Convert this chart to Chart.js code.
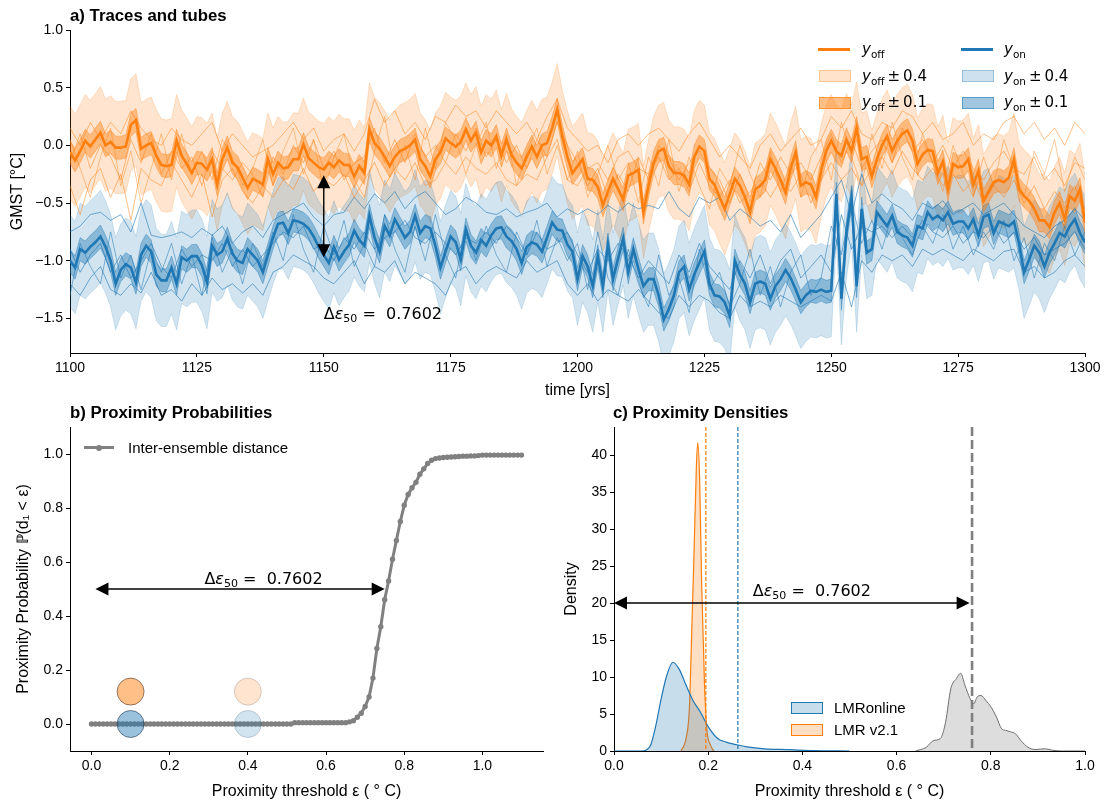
<!DOCTYPE html>
<html><head><meta charset="utf-8">
<script src="https://cdn.jsdelivr.net/npm/chart.js@4.4.1/dist/chart.umd.min.js"></script>
<style>
body{margin:0;background:#fff;width:1111px;height:811px;overflow:hidden;position:relative;font-family:"Liberation Sans",Arial,sans-serif;}
canvas{position:absolute;}
.t{position:absolute;font-weight:bold;font-size:16.8px;color:#000;line-height:18px;white-space:nowrap;}
.lg{position:absolute;font-family:"DejaVu Sans",sans-serif;font-size:15px;color:#000;line-height:16px;white-space:nowrap;}
.lg sub{font-size:10.5px;vertical-align:-4px;line-height:0;}
.lt{position:absolute;font-size:15px;color:#000;line-height:16px;white-space:nowrap;}
.sw{position:absolute;box-sizing:border-box;}
</style></head>
<body>
<canvas id="ca" width="1111" height="400" style="left:0;top:0;width:1111px;height:400px"></canvas>
<canvas id="cb" width="560" height="411" style="left:0;top:400px;width:560px;height:411px"></canvas>
<canvas id="cc" width="551" height="411" style="left:560px;top:400px;width:551px;height:411px"></canvas>

<div class="t" style="left:70px;top:7px">a) Traces and tubes</div>
<div class="t" style="left:70px;top:404px">b) Proximity Probabilities</div>
<div class="t" style="left:613px;top:404px">c) Proximity Densities</div>

<!-- legend a -->
<div class="sw" style="left:818px;top:47.5px;width:32px;height:3px;background:#ff7f0e"></div>
<div class="lg" style="left:862px;top:41px"><i>y</i><sub>off</sub></div>
<div class="sw" style="left:819px;top:70px;width:32px;height:12px;background:rgba(255,127,14,0.22);border:1px solid rgba(255,127,14,0.3)"></div>
<div class="lg" style="left:862px;top:68px"><i>y</i><sub>off</sub>&thinsp;±&thinsp;0.4</div>
<div class="sw" style="left:819px;top:97px;width:32px;height:12px;background:rgba(255,127,14,0.5);border:1px solid rgba(255,127,14,0.6)"></div>
<div class="lg" style="left:862px;top:94px"><i>y</i><sub>off</sub>&thinsp;±&thinsp;0.1</div>
<div class="sw" style="left:961px;top:47.5px;width:32px;height:3px;background:#1f77b4"></div>
<div class="lg" style="left:1004px;top:41px"><i>y</i><sub>on</sub></div>
<div class="sw" style="left:962px;top:70px;width:32px;height:12px;background:rgba(31,119,180,0.22);border:1px solid rgba(31,119,180,0.3)"></div>
<div class="lg" style="left:1004px;top:68px"><i>y</i><sub>on</sub>&thinsp;±&thinsp;0.4</div>
<div class="sw" style="left:962px;top:97px;width:32px;height:12px;background:rgba(31,119,180,0.42);border:1px solid rgba(31,119,180,0.55)"></div>
<div class="lg" style="left:1004px;top:94px"><i>y</i><sub>on</sub>&thinsp;±&thinsp;0.1</div>

<!-- legend b -->
<div class="sw" style="left:84px;top:446px;width:30px;height:3px;background:#808080"></div>
<div class="sw" style="left:96px;top:444.5px;width:6px;height:6px;border-radius:3px;background:#808080"></div>
<div class="lt" style="left:128px;top:440px">Inter-ensemble distance</div>

<!-- legend c -->
<div class="sw" style="left:791px;top:702px;width:32px;height:12px;background:rgba(31,119,180,0.25);border:1px solid #1f77b4"></div>
<div class="lt" style="left:834px;top:700px">LMRonline</div>
<div class="sw" style="left:791px;top:724px;width:32px;height:12px;background:rgba(255,127,14,0.25);border:1px solid #ff7f0e"></div>
<div class="lt" style="left:834px;top:722px">LMR v2.1</div>

<script>
// ---------------- DATA ----------------
const startYear = 1100;
const traceStep = 2;

const yOffMean = [
-0.06,-0.13,-0.05,0.04,-0.01,0.05,0.11,0.00,0.03,-0.02,
-0.02,-0.01,0.18,0.22,-0.03,0.00,0.02,-0.09,-0.17,-0.18,
-0.17,0.04,-0.09,-0.16,-0.24,-0.15,-0.16,-0.21,-0.12,-0.34,
-0.12,-0.02,-0.15,-0.19,-0.28,-0.37,-0.29,-0.31,-0.34,-0.12,
-0.25,-0.15,-0.20,-0.19,-0.12,-0.12,0.01,-0.11,-0.15,-0.19,
-0.21,-0.15,-0.19,-0.13,-0.17,-0.17,-0.27,-0.18,-0.24,0.14,
0.02,-0.03,-0.10,-0.18,-0.10,-0.05,-0.03,0.00,0.05,-0.12,
-0.18,-0.27,-0.12,-0.06,0.06,0.02,-0.01,0.03,0.14,0.04,
0.11,-0.06,0.04,0.00,0.08,-0.09,0.05,-0.08,-0.15,-0.20,
-0.10,-0.01,-0.10,0.00,0.02,0.15,0.31,0.08,-0.10,-0.24,
-0.18,-0.12,-0.29,-0.30,-0.36,-0.52,-0.40,-0.29,-0.38,-0.47,
-0.26,-0.24,-0.21,-0.58,-0.35,-0.15,-0.05,-0.03,-0.18,-0.24,
-0.24,-0.26,-0.34,-0.10,-0.01,-0.05,-0.29,-0.34,-0.45,-0.55,
-0.42,-0.29,-0.35,-0.45,-0.58,-0.38,-0.35,-0.30,-0.12,-0.20,
-0.30,-0.41,-0.20,-0.06,-0.35,-0.32,-0.34,-0.45,-0.22,-0.05,
0.04,-0.05,-0.09,0.05,-0.05,0.15,-0.12,-0.10,-0.27,-0.12,
0.00,0.08,-0.05,0.04,0.10,0.13,0.04,-0.16,-0.08,-0.04,
-0.05,-0.24,-0.14,-0.38,-0.16,-0.19,-0.18,-0.12,-0.34,-0.22,
-0.48,-0.40,-0.32,-0.30,-0.32,-0.28,-0.12,-0.38,-0.44,-0.48,
-0.55,-0.65,-0.65,-0.71,-0.58,-0.50,-0.64,-0.44,-0.48,-0.38,
-0.67];

const yOnMean = [
-1.00,-1.06,-0.90,-0.93,-0.88,-0.84,-0.79,-0.88,-1.00,-1.20,
-1.08,-1.03,-1.06,-1.19,-0.95,-0.87,-0.92,-1.12,-1.17,-1.17,
-1.06,-1.20,-0.97,-1.00,-0.96,-0.96,-1.04,-1.19,-0.87,-0.95,
-0.92,-0.81,-0.94,-1.00,-1.02,-0.90,-0.95,-1.00,-1.10,-0.95,
-0.80,-0.68,-0.67,-0.76,-0.65,-0.66,-0.68,-0.72,-0.79,-0.88,
-0.95,-1.02,-0.88,-0.99,-0.92,-0.86,-0.74,-0.82,-0.87,-0.61,
-0.80,-0.92,-0.70,-0.78,-0.64,-0.72,-0.80,-0.75,-0.61,-0.76,
-0.70,-0.72,-0.87,-1.06,-0.92,-0.79,-0.84,-0.99,-0.73,-0.87,
-0.93,-0.82,-0.87,-0.78,-0.72,-0.71,-0.79,-0.83,-0.90,-1.02,
-0.88,-0.84,-0.86,-0.92,-0.80,-0.67,-0.73,-0.74,-0.86,-0.92,
-1.16,-0.96,-1.05,-1.22,-0.96,-1.22,-0.86,-1.16,-0.98,-0.81,
-1.10,-0.90,-1.07,-1.22,-1.16,-1.16,-1.30,-1.51,-1.42,-1.30,
-1.10,-1.05,-1.25,-1.12,-1.02,-0.92,-1.20,-1.30,-1.31,-1.36,
-1.48,-1.00,-1.12,-1.20,-1.36,-1.20,-1.18,-1.20,-1.33,-1.22,
-1.16,-1.08,-1.15,-1.25,-1.36,-1.30,-1.26,-1.27,-1.25,-1.27,
-1.26,-0.42,-1.33,-0.75,-0.45,-1.22,-0.55,-0.93,-0.90,-0.58,
-0.64,-0.70,-0.61,-0.75,-0.78,-0.80,-0.87,-0.70,-0.72,-0.58,
-0.64,-0.61,-0.65,-0.58,-0.68,-0.66,-0.66,-0.72,-0.64,-0.78,
-0.62,-0.60,-0.76,-0.66,-0.68,-0.70,-0.66,-0.85,-1.10,-0.99,
-0.87,-0.93,-1.05,-0.93,-0.85,-0.76,-0.79,-0.70,-0.64,-0.76,
-0.84];

const yOffTrace1 = [
-0.35,-0.6,-0.3,-0.2,-0.45,-0.25,-0.65,-0.2,-0.3,-0.35,
-0.15,-0.3,-0.45,-0.25,-0.62,-0.3,-0.2,-0.4,-0.5,-0.35,
-0.45,-0.3,-0.38,-0.2,-0.4,-0.3,-0.35,-0.25,-0.45,-0.3,
-0.15,-0.35,-0.2,-0.3,-0.15,-0.35,-0.3,-0.15,-0.25,-0.1,
-0.2,-0.25,-0.15,-0.3,-0.35,-0.25,-0.3,-0.1,0.05,-0.3,
-0.35,-0.2,-0.15,-0.3,-0.1,-0.05,-0.2,-0.25,-0.1,-0.3,
-0.2,-0.4,-0.15,-0.35,-0.45,-0.3,-0.5,-0.4,-0.3,-0.45,
-0.3,-0.4,-0.25,-0.5,-0.3,-0.15,-0.3,-0.2,-0.35,-0.2,
-0.1,-0.25,-0.05,-0.2,-0.3,-0.2,-0.35,-0.25,-0.4,-0.3,
-0.5,-0.35,-0.45,-0.3,-0.5,-0.35,-0.55,-0.4,-0.5,-0.35,
-0.6];
const yOffTrace2 = [
0.15,0.0,0.2,0.05,0.2,0.1,0.3,0.15,0.05,0.0,
0.15,0.05,0.0,0.1,0.2,-0.05,0.1,0.0,-0.1,-0.05,
0.0,0.1,0.2,0.05,0.15,-0.05,0.05,0.1,-0.05,0.1,
0.4,0.2,0.3,0.1,0.2,0.05,0.25,0.2,0.35,0.25,
0.3,0.15,0.3,0.2,0.1,0.2,0.05,0.25,0.4,0.15,
0.05,-0.05,0.0,-0.15,0.05,0.1,0.0,0.1,0.15,0.05,
-0.05,0.1,0.2,0.05,-0.1,0.0,-0.1,-0.2,0.0,0.1,
-0.05,0.05,0.15,0.0,0.05,0.25,0.15,0.3,0.1,0.05,
0.2,0.15,0.3,0.25,0.1,0.2,0.05,0.1,0.2,0.0,
0.1,0.05,0.2,0.25,0.1,0.2,0.05,0.15,0.0,0.2,
0.1];
const yOffTrace3 = [
-0.15,0.1,-0.2,0.0,-0.1,-0.3,0.05,-0.15,0.1,-0.25,
-0.05,-0.2,-0.1,-0.35,-0.05,-0.2,-0.3,-0.15,-0.25,-0.45,
-0.1,-0.25,0.0,-0.15,0.05,-0.2,-0.05,-0.3,-0.15,-0.1,
0.15,-0.15,0.05,-0.15,0.1,-0.1,0.0,-0.15,0.1,-0.05,
0.15,-0.1,0.05,-0.15,0.0,-0.2,0.05,-0.1,0.2,0.0,
-0.15,-0.35,-0.2,-0.45,-0.25,-0.4,-0.1,-0.3,0.0,-0.1,
-0.3,-0.15,-0.05,-0.2,-0.3,-0.5,-0.25,-0.45,-0.15,-0.3,
-0.1,-0.25,-0.15,-0.3,-0.1,0.1,-0.15,0.05,-0.2,-0.05,
0.05,-0.15,0.15,-0.05,0.05,-0.15,0.0,-0.2,-0.05,-0.2,
-0.3,-0.15,-0.05,-0.2,-0.25,-0.1,-0.3,-0.2,-0.35,-0.15,
-0.2];
const yOffTrace4 = [
0.05,-0.2,-0.45,-0.1,0.15,-0.35,-0.05,-0.5,-0.2,0.1,
-0.3,0.1,-0.25,-0.05,-0.3,0.05,-0.1,-0.35,-0.2,0.05,
-0.35,-0.05,0.15,-0.25,0.05,-0.4,-0.1,0.1,-0.3,-0.45,
-0.05,0.25,-0.25,0.0,-0.3,0.15,-0.2,0.2,0.05,-0.25,
0.0,0.2,-0.2,0.1,-0.35,-0.05,0.15,-0.25,0.0,-0.3,
-0.05,-0.45,-0.25,0.0,-0.3,-0.15,-0.5,-0.1,-0.35,0.05,
-0.4,-0.1,-0.35,-0.55,-0.2,-0.35,0.0,-0.25,-0.45,-0.05,
-0.4,-0.15,-0.45,-0.1,0.05,-0.3,0.2,-0.1,-0.35,0.1,
-0.2,0.2,-0.1,-0.3,0.1,-0.15,-0.4,0.0,-0.25,-0.45,
-0.1,-0.35,0.05,-0.2,-0.45,-0.05,-0.25,0.05,-0.4,-0.1,
-0.3];
const yOnTrace1 = [
-0.75,-0.7,-0.6,-0.58,-0.65,-0.6,-0.75,-0.5,-0.78,-0.8,
-0.78,-0.75,-0.8,-0.72,-0.78,-0.7,-0.85,-0.75,-0.7,-0.8,
-0.65,-0.6,-0.55,-0.5,-0.62,-0.7,-0.6,-0.58,-0.45,-0.55,
-0.42,-0.5,-0.4,-0.55,-0.45,-0.4,-0.5,-0.6,-0.55,-0.45,
-0.5,-0.58,-0.6,-0.55,-0.62,-0.58,-0.55,-0.5,-0.62,-0.55,
-0.6,-0.55,-0.6,-0.52,-0.58,-0.5,-0.55,-0.52,-0.55,-0.4,
-0.55,-0.62,-0.45,-0.5,-0.45,-0.65,-0.55,-0.62,-0.7,-0.65,
-0.75,-0.6,-0.8,-0.7,-0.6,-0.45,-0.3,-0.6,-0.25,-0.5,
-0.42,-0.5,-0.55,-0.65,-0.5,-0.55,-0.48,-0.6,-0.55,-0.5,
-0.6,-0.55,-0.5,-0.6,-0.7,-0.75,-0.8,-0.7,-0.65,-0.55,
-0.65];
const yOnTrace2 = [
-1.2,-1.3,-1.15,-1.05,-1.25,-1.3,-1.2,-1.28,-1.1,-1.3,
-1.25,-1.35,-1.2,-1.3,-1.15,-1.25,-1.2,-1.28,-1.2,-1.3,
-1.1,-1.05,-0.95,-1.0,-1.05,-1.15,-1.2,-1.1,-1.0,-1.2,
-1.05,-1.1,-1.0,-1.2,-1.1,-1.15,-1.2,-1.3,-1.1,-1.05,
-1.2,-1.1,-1.05,-1.1,-1.15,-1.0,-1.1,-1.05,-1.0,-1.2,
-1.3,-1.2,-1.35,-1.25,-1.3,-1.35,-1.25,-1.35,-1.45,-1.5,
-1.3,-1.4,-1.3,-1.35,-1.45,-1.5,-1.3,-1.4,-1.35,-1.4,
-1.3,-1.35,-1.4,-1.35,-1.3,-1.35,-1.1,-1.4,-1.0,-1.1,
-0.95,-1.0,-0.95,-1.05,-0.9,-0.95,-0.9,-0.95,-1.0,-0.9,
-0.95,-1.0,-0.92,-0.9,-1.1,-1.05,-1.15,-1.1,-1.0,-0.95,
-1.05];
const yOnTrace3 = [
-0.9,-1.1,-0.95,-0.85,-1.1,-0.95,-1.15,-1.0,-0.85,-1.05,
-1.15,-0.9,-1.05,-0.95,-1.0,-0.85,-1.05,-0.9,-1.05,-0.95,
-0.85,-0.75,-0.8,-0.7,-0.9,-0.85,-1.0,-0.8,-0.9,-0.75,
-0.9,-0.8,-0.75,-0.65,-0.8,-0.85,-0.75,-0.85,-0.95,-0.8,
-0.85,-0.75,-0.85,-0.7,-0.8,-0.95,-0.75,-0.9,-0.85,-0.75,
-0.95,-1.1,-0.9,-1.0,-0.85,-0.95,-1.15,-1.0,-1.1,-1.2,
-0.95,-1.1,-0.85,-1.05,-1.15,-1.25,-1.0,-1.15,-0.95,-1.2,
-1.0,-0.9,-1.15,-1.05,-0.95,-1.1,-0.6,-0.9,-0.7,-0.75,
-0.7,-0.8,-0.7,-0.8,-0.65,-0.75,-0.8,-0.7,-0.85,-0.75,
-0.8,-0.7,-0.85,-0.75,-0.9,-0.8,-0.95,-0.9,-0.85,-0.75,
-0.9];
const yOnTrace4 = [
-1.3,-0.85,-1.05,-1.2,-0.75,-1.15,-0.95,-1.25,-0.9,-1.1,
-0.85,-1.2,-0.95,-1.3,-0.8,-1.1,-0.9,-1.2,-0.85,-1.05,
-0.75,-1.0,-0.6,-0.9,-1.1,-0.7,-0.95,-0.65,-1.05,-0.85,
-1.05,-0.6,-0.9,-1.1,-0.7,-1.0,-0.6,-0.95,-1.15,-0.7,
-1.0,-0.7,-0.95,-1.1,-0.75,-0.95,-0.65,-1.05,-0.8,-1.0,
-0.85,-1.25,-0.75,-1.15,-1.3,-0.9,-1.2,-1.4,-0.95,-1.3,
-1.15,-1.45,-0.9,-1.25,-1.1,-1.4,-1.2,-0.9,-1.3,-1.05,
-1.4,-1.1,-0.95,-1.3,-1.15,-0.7,-0.95,-0.5,-0.85,-0.65,
-0.9,-0.6,-0.8,-0.95,-0.7,-0.85,-0.6,-0.9,-0.7,-0.95,
-0.75,-0.9,-0.65,-1.0,-0.8,-1.15,-0.85,-1.0,-0.7,-0.95,
-0.75];

const bandWide = 0.4;
const bandNarrow = 0.1;
const timeTicks = [1100,1125,1150,1175,1200,1225,1250,1275,1300];
const gmstTicks = [-1.5,-1.0,-0.5,0.0,0.5,1.0];
const deltaEps50 = 0.7602;
const arrowYear = 1150, arrowTop = -0.26, arrowBottom = -0.97;

// panel b
const epsGrid = [
0.00,0.01,0.02,0.03,0.04,0.05,0.06,0.07,0.08,0.09,
0.10,0.11,0.12,0.13,0.14,0.15,0.16,0.17,0.18,0.19,
0.20,0.21,0.22,0.23,0.24,0.25,0.26,0.27,0.28,0.29,
0.30,0.31,0.32,0.33,0.34,0.35,0.36,0.37,0.38,0.39,
0.40,0.41,0.42,0.43,0.44,0.45,0.46,0.47,0.48,0.49,
0.50,0.51,0.52,0.53,0.54,0.55,0.56,0.57,0.58,0.59,
0.60,0.61,0.62,0.63,0.64,0.65,0.66,0.67,0.68,0.69,
0.70,0.71,0.72,0.73,0.74,0.75,0.76,0.77,0.78,0.79,
0.80,0.81,0.82,0.83,0.84,0.85,0.86,0.87,0.88,0.89,
0.90,0.91,0.92,0.93,0.94,0.95,0.96,0.97,0.98,0.99,
1.00,1.01,1.02,1.03,1.04,1.05,1.06,1.07,1.08,1.09,
1.10];
const proxProb = [
0,0,0,0,0,0,0,0,0,0,
0,0,0,0,0,0,0,0,0,0,
0,0,0,0,0,0,0,0,0,0,
0,0,0,0,0,0,0,0,0,0,
0,0,0,0,0,0,0,0,0,0,
0,0,0.005,0.005,0.005,0.005,0.005,0.005,0.005,0.005,
0.005,0.005,0.005,0.005,0.005,0.005,0.008,0.012,0.025,0.04,
0.065,0.10,0.17,0.28,0.36,0.46,0.53,0.61,0.68,0.75,
0.81,0.85,0.875,0.895,0.925,0.945,0.965,0.977,0.983,0.985,
0.987,0.988,0.989,0.990,0.991,0.992,0.992,0.993,0.993,0.994,
0.996,0.996,0.996,0.996,0.996,0.996,0.996,0.996,0.996,0.996,
0.996];
const circleEps = [0.1, 0.1, 0.4, 0.4];
const circleProb = [0.12, 0.0, 0.12, 0.0];
const unitTicks = [0.0,0.2,0.4,0.6,0.8,1.0];

// panel c
const onlineEps = [0,0.06,0.067,0.078,0.089,0.10,0.112,0.125,0.138,0.153,0.168,0.183,0.201,0.22,0.238,0.261,0.283,0.32,0.373,0.425,0.5];
const onlineDens = [0,0,0.1,0.8,3.5,7.0,10.2,12.0,11.1,8.9,6.8,5.3,3.2,1.7,1.2,0.85,0.55,0.3,0.18,0.05,0];
const v21Eps = [0.142,0.153,0.16,0.165,0.17,0.175,0.178,0.182,0.186,0.192,0.197,0.205,0.212];
const v21Dens = [0,1.7,5.7,16,27,38.6,41.7,36.3,22.8,9.3,3.0,0.8,0];
const interEps = [0.64,0.663,0.678,0.693,0.704,0.715,0.727,0.736,0.745,0.756,0.764,0.771,0.779,0.79,0.801,0.812,0.823,0.831,0.842,0.853,0.864,0.879,0.894,0.916,0.931,0.95,1.0];
const interDens = [0,0.5,1.4,1.7,3.9,8.4,9.8,10.5,8.9,7.1,6.4,7.3,7.5,6.8,5.9,4.6,3.0,2.8,2.6,2.3,1.4,0.5,0.2,0.3,0.1,0,0];
const onlineMeanEps = 0.263;
const v21MeanEps = 0.195;
const densTicks = [0,5,10,15,20,25,30,35,40];
const densMax = 43.8;

// ---------------- HELPERS ----------------
const FONT = '"Liberation Sans", Arial, sans-serif';
const ORANGE = 'rgb(255,127,14)', BLUE = 'rgb(31,119,180)';
const oa = a => `rgba(255,127,14,${a})`;
const ba = a => `rgba(31,119,180,${a})`;
const fmt1 = v => (v < 0 ? '\u2212' : '') + Math.abs(v).toFixed(1);

function yearly(arr, off = 0) { return arr.map((v, i) => ({ x: startYear + i, y: v + off })); }
function stepped(arr) { return arr.map((v, i) => ({ x: startYear + i * traceStep, y: v })); }
function pairs(xs, ys) { return xs.map((x, i) => ({ x: x, y: ys[i] })); }

function axis(opts) {
  return {
    type: 'linear',
    min: opts.min, max: opts.max,
    grid: { display: true, drawOnChartArea: false, drawTicks: true, tickLength: 4, color: '#000', tickColor: '#000', tickWidth: 1 },
    border: { display: true, color: '#000', width: 1 },
    ticks: { color: '#000', font: { family: FONT, size: 14 }, padding: 3, maxRotation: 0, autoSkip: false, callback: opts.fmt },
    afterBuildTicks: s => { s.ticks = opts.ticks.map(v => ({ value: v })); },
    title: { display: true, text: opts.title, color: '#000', font: { family: FONT, size: 16 }, padding: opts.tpad },
    afterFit: s => { if (opts.w !== undefined) s.width = opts.w; if (opts.h !== undefined) s.height = opts.h; }
  };
}

function drawArrowHead(ctx, tx, ty, ux, uy, len, hw) {
  const bx = tx - ux * len, by = ty - uy * len;
  ctx.beginPath();
  ctx.moveTo(tx, ty);
  ctx.lineTo(bx - uy * hw, by + ux * hw);
  ctx.lineTo(bx + uy * hw, by - ux * hw);
  ctx.closePath();
  ctx.fill();
}
function drawDoubleArrow(ctx, x1, y1, x2, y2) {
  const dx = x2 - x1, dy = y2 - y1, L = Math.hypot(dx, dy);
  const ux = dx / L, uy = dy / L, len = 13, hw = 6.5;
  ctx.strokeStyle = '#000'; ctx.fillStyle = '#000'; ctx.lineWidth = 1.4;
  ctx.beginPath();
  ctx.moveTo(x1 + ux * (len - 1), y1 + uy * (len - 1));
  ctx.lineTo(x2 - ux * (len - 1), y2 - uy * (len - 1));
  ctx.stroke();
  drawArrowHead(ctx, x2, y2, ux, uy, len, hw);
  drawArrowHead(ctx, x1, y1, -ux, -uy, len, hw);
}
function drawMath(ctx, x, y, align, value) {
  const parts = [
    { t: '\u0394', f: `16px "DejaVu Sans", sans-serif`, dy: 0 },
    { t: '\u03B5', f: `italic 16px "DejaVu Sans", sans-serif`, dy: 0 },
    { t: '50', f: `11px "DejaVu Sans", sans-serif`, dy: 3.5 },
    { t: ' =  ' + value, f: `16px "DejaVu Sans", sans-serif`, dy: 0 }
  ];
  let w = 0;
  parts.forEach(p => { ctx.font = p.f; p.w = ctx.measureText(p.t).width; w += p.w; });
  let cx = align === 'center' ? x - w / 2 : x;
  ctx.fillStyle = '#000'; ctx.textBaseline = 'alphabetic'; ctx.textAlign = 'left';
  parts.forEach(p => { ctx.font = p.f; ctx.fillText(p.t, cx, y + 5.5 + p.dy); cx += p.w; });
}

const annotPlugin = {
  id: 'annot',
  afterDatasetsDraw(chart, args, opts) {
    const ctx = chart.ctx, xs = chart.scales.x, ys = chart.scales.y, ca = chart.chartArea;
    ctx.save();
    (opts.vlines || []).forEach(v => {
      const px = xs.getPixelForValue(v.x);
      ctx.beginPath(); ctx.setLineDash(v.dash); ctx.strokeStyle = v.color; ctx.lineWidth = v.width;
      ctx.moveTo(px, ca.top); ctx.lineTo(px, ca.bottom); ctx.stroke();
    });
    ctx.setLineDash([]);
    (opts.arrows || []).forEach(a => {
      drawDoubleArrow(ctx, xs.getPixelForValue(a.x1), ys.getPixelForValue(a.y1), xs.getPixelForValue(a.x2), ys.getPixelForValue(a.y2));
    });
    (opts.texts || []).forEach(t => drawMath(ctx, xs.getPixelForValue(t.x), ys.getPixelForValue(t.y), t.align, t.value));
    ctx.restore();
  }
};

const common = {
  responsive: false, animation: false, devicePixelRatio: 1,
  events: [],
  plugins: { legend: { display: false }, tooltip: { enabled: false } },
  elements: { point: { radius: 0 } }
};

// ---------------- PANEL A ----------------
function bandPair(arr, w, fillColor, edgeColor, order) {
  return [
    { data: yearly(arr, w), fill: '+1', backgroundColor: fillColor, borderColor: edgeColor, borderWidth: 0.8, pointRadius: 0, order: order },
    { data: yearly(arr, -w), fill: false, borderColor: edgeColor, borderWidth: 0.8, pointRadius: 0, order: order }
  ];
}
function traceDs(arr, color) {
  return { data: stepped(arr), fill: false, borderColor: color, borderWidth: 0.7, pointRadius: 0, order: 3 };
}
const dsA = [
  ...bandPair(yOffMean, bandWide, oa(0.2), oa(0.25), 6),
  ...bandPair(yOnMean, bandWide, ba(0.2), ba(0.22), 5),
  ...bandPair(yOffMean, bandNarrow, oa(0.42), oa(0.5), 4),
  ...bandPair(yOnMean, bandNarrow, ba(0.4), ba(0.5), 4),
  traceDs(yOffTrace1, oa(0.7)), traceDs(yOffTrace2, oa(0.7)), traceDs(yOffTrace3, oa(0.7)), traceDs(yOffTrace4, oa(0.6)),
  traceDs(yOnTrace1, ba(0.85)), traceDs(yOnTrace2, ba(0.85)), traceDs(yOnTrace3, ba(0.85)), traceDs(yOnTrace4, ba(0.75)),
  { data: yearly(yOffMean), fill: false, borderColor: ORANGE, borderWidth: 2.6, pointRadius: 0, order: 1 },
  { data: yearly(yOnMean), fill: false, borderColor: BLUE, borderWidth: 2.6, pointRadius: 0, order: 1 }
];

new Chart(document.getElementById('ca'), {
  type: 'line',
  data: { datasets: dsA },
  options: Object.assign({}, common, {
    layout: { padding: { left: 0, right: 26, top: 30, bottom: 0 } },
    scales: {
      x: axis({ min: 1100, max: 1300, ticks: timeTicks, fmt: v => String(v), title: 'time [yrs]', tpad: { top: 0, bottom: 0 }, h: 47 }),
      y: axis({ min: -1.8, max: 1.0, ticks: gmstTicks, fmt: fmt1, title: 'GMST [\u00B0C]', tpad: { top: 8, bottom: 0 }, w: 70 })
    },
    plugins: Object.assign({}, common.plugins, {
      annot: {
        arrows: [{ x1: arrowYear, y1: arrowTop, x2: arrowYear, y2: arrowBottom }],
        texts: [{ x: arrowYear, y: -1.455, align: 'left', value: deltaEps50.toFixed(4) }]
      }
    })
  }),
  plugins: [annotPlugin]
});

// ---------------- PANEL B ----------------
new Chart(document.getElementById('cb'), {
  type: 'line',
  data: {
    datasets: [
      { type: 'scatter', data: pairs(circleEps, circleProb), showLine: false, pointRadius: 13.5,
        pointBackgroundColor: [oa(0.5), ba(0.45), oa(0.2), ba(0.2)],
        pointBorderColor: ['rgba(60,40,30,0.55)', 'rgba(20,40,60,0.55)', 'rgba(60,40,30,0.2)', 'rgba(20,40,60,0.2)'],
        pointBorderWidth: 1, order: 0 },
      { data: pairs(epsGrid, proxProb), fill: false, borderColor: 'rgb(128,128,128)', borderWidth: 3,
        pointRadius: 2.7, pointBackgroundColor: 'rgb(128,128,128)', pointBorderWidth: 0, order: 1 }
    ]
  },
  options: Object.assign({}, common, {
    layout: { padding: { left: 0, right: 17, top: 27, bottom: 0 } },
    scales: {
      x: axis({ min: -0.055, max: 1.155, ticks: unitTicks, fmt: fmt1, title: 'Proximity threshold \u03B5 ( \u00B0 C)', tpad: { top: 0, bottom: 10 }, h: 60 }),
      y: axis({ min: -0.1, max: 1.1, ticks: unitTicks, fmt: fmt1, title: 'Proximity Probability \u2119(d\u2081 < \u03B5)', tpad: { top: 14, bottom: 0 }, w: 70 })
    },
    plugins: Object.assign({}, common.plugins, {
      annot: {
        arrows: [{ x1: 0.01, y1: 0.5, x2: 0.75, y2: 0.5 }],
        texts: [{ x: 0.44, y: 0.54, align: 'center', value: deltaEps50.toFixed(4) }]
      }
    })
  }),
  plugins: [annotPlugin]
});

// ---------------- PANEL C ----------------
new Chart(document.getElementById('cc'), {
  type: 'line',
  data: {
    datasets: [
      { data: pairs(onlineEps, onlineDens), fill: 'origin', backgroundColor: ba(0.25), borderColor: BLUE, borderWidth: 1.2, cubicInterpolationMode: 'monotone', pointRadius: 0 },
      { data: pairs(v21Eps, v21Dens), fill: 'origin', backgroundColor: oa(0.25), borderColor: ORANGE, borderWidth: 1.2, cubicInterpolationMode: 'monotone', pointRadius: 0 },
      { data: pairs(interEps, interDens), fill: 'origin', backgroundColor: 'rgba(128,128,128,0.27)', borderColor: 'rgb(110,110,110)', borderWidth: 1, cubicInterpolationMode: 'monotone', pointRadius: 0 }
    ]
  },
  options: Object.assign({}, common, {
    layout: { padding: { left: 0, right: 26, top: 27, bottom: 0 } },
    scales: {
      x: axis({ min: 0, max: 1, ticks: unitTicks, fmt: fmt1, title: 'Proximity threshold \u03B5 ( \u00B0 C)', tpad: { top: 0, bottom: 10 }, h: 60 }),
      y: axis({ min: 0, max: densMax, ticks: densTicks, fmt: v => String(v), title: 'Density', tpad: { top: 2, bottom: 0 }, w: 54 })
    },
    plugins: Object.assign({}, common.plugins, {
      annot: {
        vlines: [
          { x: v21MeanEps, color: ORANGE, width: 1.2, dash: [4, 2] },
          { x: onlineMeanEps, color: BLUE, width: 1.2, dash: [4, 2] },
          { x: deltaEps50, color: 'rgb(128,128,128)', width: 2.6, dash: [9, 4] }
        ],
        arrows: [{ x1: 0.0, y1: 20, x2: 0.755, y2: 20 }],
        texts: [{ x: 0.42, y: 21.7, align: 'center', value: deltaEps50.toFixed(4) }]
      }
    })
  }),
  plugins: [annotPlugin]
});
</script>
</body></html>
